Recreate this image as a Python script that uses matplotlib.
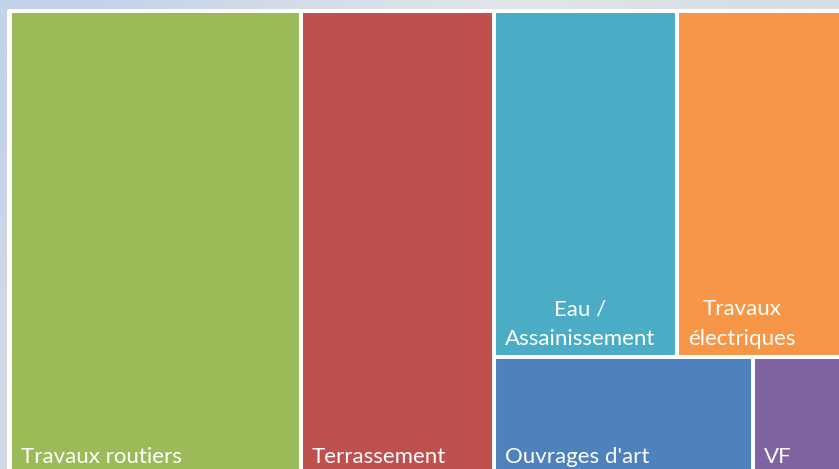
import numpy as np
import matplotlib.pyplot as plt
from matplotlib.patches import Rectangle
from matplotlib.colors import to_rgb

# share of each work category (%)
labels = ["Travaux routiers", "Terrassement", "Eau /\nAssainissement",
          "Travaux\nélectriques", "Ouvrages d'art", "VF"]
values = [34.8, 23.2, 16.3, 15.0, 7.9, 2.8]
colors = ["#9BBB59", "#C0504D", "#4BACC6", "#F79646", "#4F81BD", "#8064A2"]

# treemap area in pixel units (runs off the right and bottom of the picture)
X0, Y0, X1, Y1 = 10, 11, 845, 475


def layout(vals, x0, y0, x1, y1):
    # two full-height columns, then a 2x2 block split in two rows
    total = sum(vals)
    w = x1 - x0
    rects = []
    x = x0
    for v in vals[:2]:
        dx = w * v / total
        rects.append((x, y0, dx, y1 - y0))
        x += dx
    rest = vals[2:]
    top = rest[:2]
    bot = rest[2:]
    h_top = (y1 - y0) * sum(top) / sum(rest)
    rw = x1 - x
    xx = x
    for v in top:
        dx = rw * v / sum(top)
        rects.append((xx, y0, dx, h_top))
        xx += dx
    xx = x
    for v in bot:
        dx = rw * v / sum(bot)
        rects.append((xx, y0 + h_top, dx, y1 - y0 - h_top))
        xx += dx
    return rects


fig = plt.figure(figsize=(8.39, 4.69), dpi=100)
ax = fig.add_axes([0, 0, 1, 1])
ax.set_xlim(0, 839)
ax.set_ylim(469, 0)
ax.axis("off")

# pale slide background
grid = np.array([
    [to_rgb("#c4d2ec"), to_rgb("#d6dde8"), to_rgb("#e2e6e8"), to_rgb("#d9dee3")],
    [to_rgb("#d2d9e4"), to_rgb("#d8dde3"), to_rgb("#dadfe3"), to_rgb("#d9dee3")],
])
ax.imshow(grid, extent=(0, 839, 469, 0), aspect="auto",
          interpolation="bilinear", zorder=0)

ax.add_patch(Rectangle((7, 10), 845, 470, facecolor="white",
                       edgecolor="none", zorder=1))

for (x, y, w, h), lab, c in zip(layout(values, X0, Y0, X1, Y1), labels, colors):
    ax.add_patch(Rectangle((x, y), w, h, facecolor=c, edgecolor="white",
                           linewidth=2.9, zorder=2))
    ax.text(x + 11, y + h - 8, lab, color="white", fontsize=16,
            family="Lato", ha="left", va="bottom",
            multialignment="center", linespacing=1.6, zorder=3)

fig.savefig("out.png", dpi=100)
